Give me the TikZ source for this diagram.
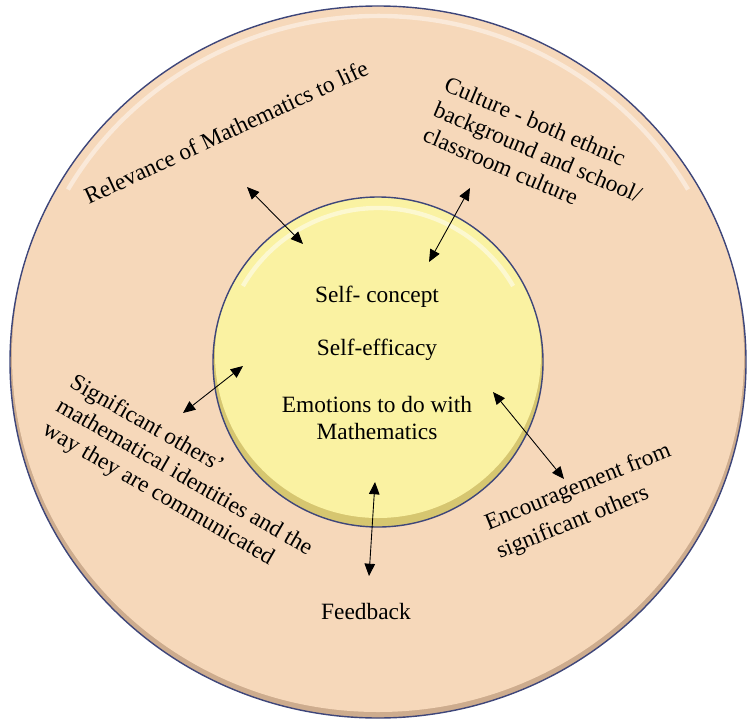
\documentclass[tikz,border=0pt]{standalone}
\usepackage{fontspec}
\setmainfont{Liberation Serif}
\usepackage{tikz}
\usetikzlibrary{arrows.meta}
\definecolor{ringpeach}{RGB}{246,216,186}
\definecolor{ringshade}{RGB}{205,172,142}
\definecolor{coreyellow}{RGB}{250,242,162}
\definecolor{coreshade}{RGB}{214,198,112}
\definecolor{rimblue}{RGB}{62,70,122}

\begin{document}
\begin{tikzpicture}[x=0.02cm,y=0.02cm,font=\fontsize{13.3}{15.5}\selectfont,
  link/.style={{Triangle[length=7pt,width=6pt]}-{Triangle[length=7pt,width=6pt]},line width=0.5pt},
  factor/.style={align=left,inner sep=0pt}]
\useasboundingbox (0,0) rectangle (749,721);
% Outer ring (bevel from a shifted fill)
\begin{scope}
\clip (378,359) ellipse [x radius=368,y radius=356];
\fill[ringshade] (378,359) ellipse [x radius=368,y radius=356];
\fill[ringpeach] (378,365) ellipse [x radius=366,y radius=356];
\draw[white,opacity=0.45,line width=2.5pt] (378,358) ++(150:358 and 347)
  arc[start angle=150,end angle=30,x radius=358,y radius=347];
\end{scope}
\draw[rimblue,line width=0.8pt] (378,359) ellipse [x radius=368,y radius=356];
% Inner core
\begin{scope}
\clip (378,359) circle [radius=165];
\fill[coreshade] (378,359) circle [radius=165];
\fill[coreyellow] (378,366) circle [radius=163];
\draw[white,opacity=0.5,line width=2.5pt] (378,357) ++(150:156)
  arc[start angle=150,end angle=30,radius=156];
\end{scope}
\draw[rimblue,line width=0.8pt] (378,359) circle [radius=165];
% Core labels
\node (concept) at (377,424) {Self- concept};
\node (efficacy) at (377,371) {Self-efficacy};
\node[align=center] (emotions) at (377,303) {Emotions to do with\\Mathematics};
% Influences round the ring
\node[rotate=25] (relevance) at (226,589) {Relevance of Mathematics to life};
\node[factor,rotate=-23] (culture) at (538,569) {Culture - both ethnic\\background and school/\\classroom culture};
\node[factor,rotate=-30] (others) at (184,243) {Significant others'\\mathematical identities and the\\way they are communicated};
\node[factor,rotate=22] (encourage) at (584,219) {Encouragement from\\[2pt]significant others};
\node (feedback) at (366,110) {Feedback};
% Arrow ends
\coordinate (relevance-out) at (247,534);
\coordinate (relevance-in) at (303,477);
\coordinate (culture-out) at (470,533);
\coordinate (culture-in) at (429,459);
\coordinate (others-out) at (183,308);
\coordinate (others-in) at (243,355);
\coordinate (encourage-out) at (564,242);
\coordinate (encourage-in) at (493,329);
\coordinate (feedback-out) at (369,145);
\coordinate (feedback-in) at (375,239);
% Two-way links
\draw[link] (relevance-out) -- (relevance-in);
\draw[link] (culture-out) -- (culture-in);
\draw[link] (others-out) -- (others-in);
\draw[link] (encourage-out) -- (encourage-in);
\draw[link] (feedback-out) -- (feedback-in);
\end{tikzpicture}
\end{document}
